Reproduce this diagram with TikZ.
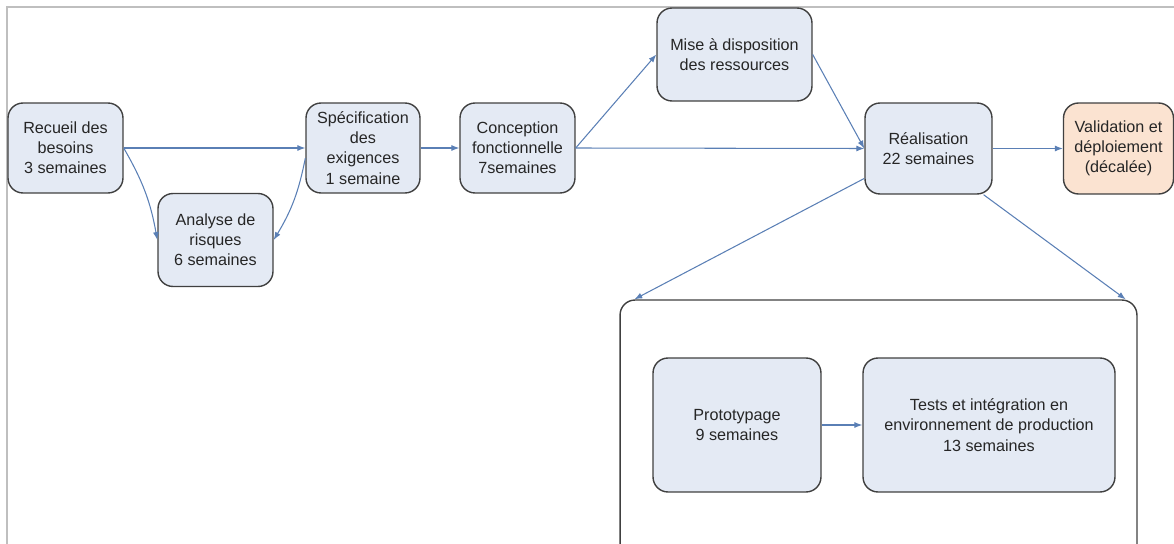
\documentclass[tikz,border=0pt]{standalone}
\usepackage{fontspec}
\setmainfont{Liberation Sans}
\usetikzlibrary{arrows.meta}
\definecolor{fondbleu}{HTML}{E4EAF4}
\definecolor{fondorange}{HTML}{FBE3D1}
\definecolor{trait}{HTML}{404040}
\definecolor{lien}{HTML}{5A7FB5}
\tikzstyle{etape}=[draw=trait, fill=fondbleu, line width=0.8pt, rounded corners=0.3cm, align=center, text=black!85, font={\fontsize{9.2}{11.5}\selectfont}, inner sep=2pt]
\tikzstyle{decale}=[etape, fill=fondorange]
\tikzstyle{groupe}=[draw=trait, line width=0.8pt, rounded corners=0.3cm, minimum width=10.34cm, minimum height=5.4cm]
\tikzstyle{fleche}=[draw=lien, line width=0.6pt, -{Latex[length=4.5pt,width=3.4pt]}]
\tikzstyle{cadre}=[draw=black!25, line width=1.1pt]

\begin{document}
\begin{tikzpicture}[x=0.02cm, y=-0.02cm]
    \path [use as bounding box, clip] (0,0) rectangle (1174,544);
    \draw [cadre] (7,544) -- (7,7) -- (1174,7);

    \node [etape, minimum width=2.3cm, minimum height=1.8cm] (recueil) at (65.5,148) {Recueil des\\besoins\\3 semaines};
    \node [etape, minimum width=2.3cm, minimum height=1.86cm] (analyse) at (215.5,240) {Analyse de\\risques\\6 semaines};
    \node [etape, minimum width=2.28cm, minimum height=1.8cm] (spec) at (363,148) {Spécification\\des\\exigences\\1 semaine};
    \node [etape, minimum width=2.3cm, minimum height=1.8cm] (conception) at (517.5,148) {Conception\\fonctionnelle\\7semaines};
    \node [etape, minimum width=3.1cm, minimum height=1.86cm] (mise) at (734.5,54.5) {Mise à disposition\\des ressources};
    \node [etape, minimum width=2.54cm, minimum height=1.82cm] (realisation) at (928.5,148.5) {Réalisation\\22 semaines};
    \node [decale, minimum width=2.2cm, minimum height=1.82cm] (validation) at (1118.5,148.5) {Validation et\\déploiement\\(décalée)};

    \node [groupe] (travaux) at (878.5,435) {};
    \node [etape, minimum width=3.36cm, minimum height=2.68cm] (proto) at (737,425) {Prototypage\\9 semaines};
    \node [etape, minimum width=5.04cm, minimum height=2.68cm] (tests) at (989,425) {Tests et intégration en\\environnement de production\\13 semaines};

    \draw [fleche] (recueil.east) -- (spec.west);
    \draw [fleche] (recueil.east) to [bend left=10] (analyse.west);
    \draw [fleche] (spec.190) to [bend left=10] (analyse.east);
    \draw [fleche] (spec.east) -- (conception.west);
    \draw [fleche] (conception.east) -- (mise.west);
    \draw [fleche] (conception.east) -- (realisation.west);
    \draw [fleche] (mise.east) -- (realisation.west);
    \draw [fleche] (realisation.east) -- (validation.west);
    \draw [fleche] (realisation.205) -- ([xshift=0.3cm]travaux.north west);
    \draw [fleche] (realisation.-40) -- ([xshift=-0.24cm]travaux.north east);
    \draw [fleche] (proto.east) -- (tests.west);
\end{tikzpicture}
\end{document}
